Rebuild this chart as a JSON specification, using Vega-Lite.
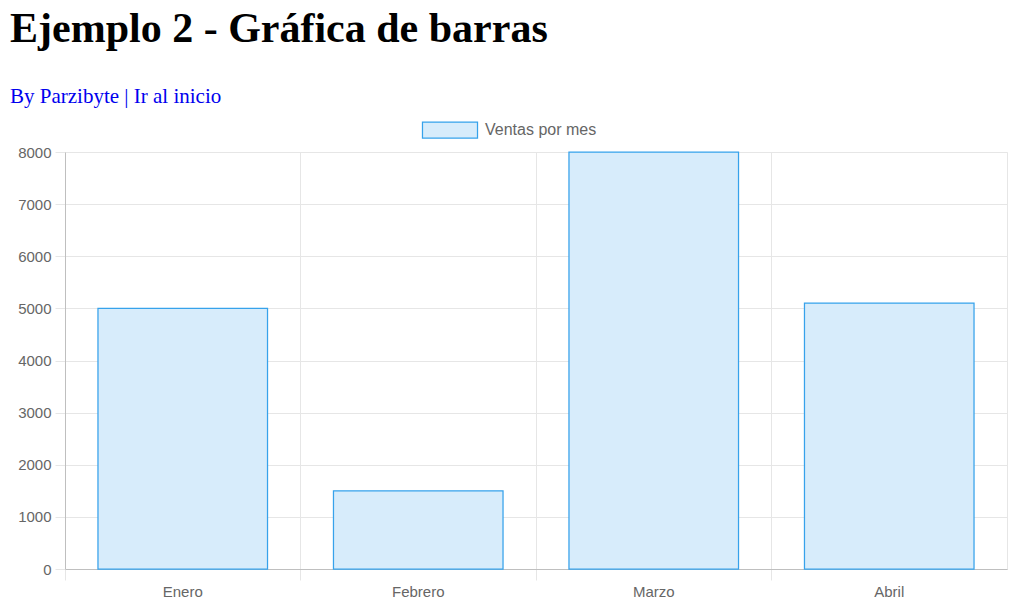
{
  "$schema": "https://vega.github.io/schema/vega-lite/v6.json",
  "width": 942,
  "height": 417,
  "autosize": "none",
  "padding": {"left": 65, "top": 152, "right": 15, "bottom": 36},
  "background": "white",
  "title": {
    "text": "Ejemplo 2 - Gráfica de barras",
    "subtitle": "By Parzibyte | Ir al inicio",
    "anchor": "start",
    "frame": "group",
    "dx": -55,
    "offset": 5,
    "font": "Liberation Serif",
    "fontSize": 42,
    "fontWeight": "bold",
    "color": "#000000",
    "subtitleFont": "Liberation Serif",
    "subtitleFontSize": 21,
    "subtitleColor": "#0000ee",
    "subtitlePadding": 35
  },
  "data": {
    "values": [
      {"mes": "Enero", "ventas": 5000, "serie": "Ventas por mes"},
      {"mes": "Febrero", "ventas": 1500, "serie": "Ventas por mes"},
      {"mes": "Marzo", "ventas": 8000, "serie": "Ventas por mes"},
      {"mes": "Abril", "ventas": 5102, "serie": "Ventas por mes"}
    ]
  },
  "mark": {"type": "bar", "stroke": "#36a2eb", "strokeWidth": 1.25, "width": {"band": 0.72}},
  "encoding": {
    "x": {
      "field": "mes",
      "type": "nominal",
      "sort": null,
      "scale": {"paddingInner": 0, "paddingOuter": 0},
      "axis": {
        "title": null,
        "labelAngle": 0,
        "bandPosition": 0,
        "grid": true,
        "gridColor": "#e6e6e6",
        "tickColor": "#e6e6e6",
        "tickSize": 11,
        "domainColor": "#bfbfbf",
        "labelFont": "Liberation Sans",
        "labelFontSize": 15,
        "labelColor": "#666666",
        "labelPadding": 4
      }
    },
    "y": {
      "field": "ventas",
      "type": "quantitative",
      "scale": {"domain": [0, 8000], "nice": false},
      "axis": {
        "title": null,
        "values": [0, 1000, 2000, 3000, 4000, 5000, 6000, 7000, 8000],
        "format": "d",
        "grid": true,
        "gridColor": "#e6e6e6",
        "tickColor": "#e6e6e6",
        "tickSize": 10,
        "domainColor": "#bfbfbf",
        "labelFont": "Liberation Sans",
        "labelFontSize": 15,
        "labelColor": "#666666",
        "labelPadding": 4
      }
    },
    "color": {
      "field": "serie",
      "type": "nominal",
      "scale": {"range": ["#d7ecfb"]},
      "legend": {
        "title": null,
        "orient": "none",
        "legendX": 368,
        "legendY": -39,
        "padding": 0,
        "symbolType": "M-1.72,-0.5H1.72V0.5H-1.72Z",
        "symbolSize": 1024,
        "symbolStrokeColor": "#36a2eb",
        "symbolStrokeWidth": 1.25,
        "labelFont": "Liberation Sans",
        "labelFontSize": 16,
        "labelColor": "#666666",
        "labelOffset": 18
      }
    }
  },
  "config": {
    "view": {"stroke": "#e6e6e6"},
    "axis": {"domainWidth": 1, "gridWidth": 1}
  }
}
